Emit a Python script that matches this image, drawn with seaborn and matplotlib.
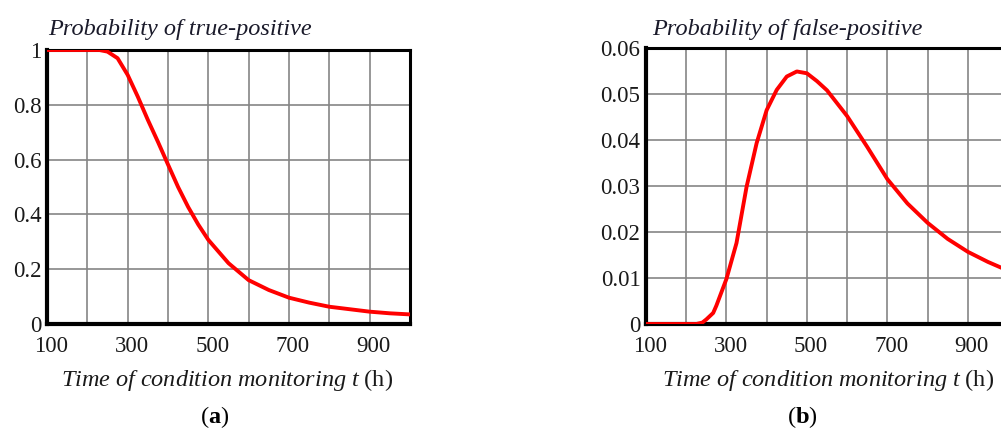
import numpy as np
import pandas as pd
import matplotlib
matplotlib.use("Agg")
import matplotlib.pyplot as plt
import matplotlib.transforms as mtransforms
import seaborn as sns

# ---- data ----
t_tp = [100, 200, 230, 250, 275, 300, 325, 350, 375, 400, 425, 450, 475, 500,
        550, 600, 650, 700, 750, 800, 850, 900, 950, 1000]
p_tp = [1.0, 1.0, 1.0, 0.994, 0.97, 0.909, 0.83, 0.745, 0.665, 0.582, 0.50, 0.427, 0.363, 0.307,
        0.222, 0.16, 0.124, 0.096, 0.078, 0.063, 0.054, 0.045, 0.039, 0.035]

t_fp = [100, 150, 200, 225, 240, 250, 267, 275, 300, 325, 350, 375, 400, 425, 450, 475,
        500, 525, 550, 575, 600, 650, 700, 750, 800, 850, 900, 950, 1000]
p_fp = [0.0, 0.0, 0.0, 0.0, 0.0003, 0.001, 0.0024, 0.004, 0.0098, 0.0176, 0.0298, 0.0393, 0.0465, 0.0509, 0.0538, 0.0549,
        0.0545, 0.0528, 0.0508, 0.048, 0.0452, 0.0385, 0.0315, 0.0262, 0.022, 0.0185, 0.0157, 0.0135, 0.0116]

x_major = [100, 300, 500, 700, 900]
x_minor = [200, 400, 600, 800, 1000]
y_tp_ticks = [0, 0.2, 0.4, 0.6, 0.8, 1.0]
y_tp_labels = ["0", "0.2", "0.4", "0.6", "0.8", "1"]
y_fp_ticks = [0, 0.01, 0.02, 0.03, 0.04, 0.05, 0.06]
y_fp_labels = ["0", "0.01", "0.02", "0.03", "0.04", "0.05", "0.06"]

titles = ["Probability of true-positive", "Probability of false-positive"]
panel_labels = ["a", "b"]

sns.set_theme(style="white")
plt.rcParams["font.family"] = ["Liberation Serif", "DejaVu Serif"]
plt.rcParams["mathtext.fontset"] = "custom"
plt.rcParams["mathtext.rm"] = "Liberation Serif"
plt.rcParams["mathtext.it"] = "Liberation Serif:italic"
plt.rcParams["mathtext.bf"] = "Liberation Serif:bold"

FS_TICK = 16.5
FS_TEXT = 17.5
fig = plt.figure(figsize=(10.01, 4.30), dpi=100)
W, H = 1001.0, 430.0

def px_axes(l, t, r, b):
    return fig.add_axes([l / W, 1 - b / H, (r - l) / W, (b - t) / H])

ax1 = px_axes(47, 50, 410, 324)
ax2 = px_axes(646, 48, 1008, 324)

df1 = pd.DataFrame({"t": t_tp, "p": p_tp})
df2 = pd.DataFrame({"t": t_fp, "p": p_fp})

sns.lineplot(data=df1, x="t", y="p", ax=ax1, color="#ff0000", linewidth=2.8, zorder=5)
sns.lineplot(data=df2, x="t", y="p", ax=ax2, color="#ff0000", linewidth=2.8, zorder=5)

shift = mtransforms.ScaledTranslation(4 / 100.0, 0, fig.dpi_scale_trans)
for ax, yt, yl, ymax in [(ax1, y_tp_ticks, y_tp_labels, 1.0), (ax2, y_fp_ticks, y_fp_labels, 0.06)]:
    ax.set_xlim(100, 1000)
    ax.set_ylim(0, ymax)
    ax.set_xticks(x_major)
    ax.set_xticklabels([str(v) for v in x_major])
    ax.set_xticks(x_minor, minor=True)
    ax.set_yticks(yt)
    ax.set_yticklabels(yl)
    ax.grid(True, which="both", color="#858585", linewidth=1.2)
    ax.tick_params(axis="both", which="both", length=0, labelsize=FS_TICK, colors="#1a1a1a")
    ax.tick_params(axis="x", pad=9)
    ax.tick_params(axis="y", pad=4)
    for lab in ax.get_xticklabels():
        lab.set_transform(lab.get_transform() + shift)
    ax.set_xlabel("")
    ax.set_ylabel("")
    for s in ["left", "bottom"]:
        ax.spines[s].set_linewidth(3.0)
        ax.spines[s].set_color("black")
    for s in ["top", "right"]:
        ax.spines[s].set_linewidth(2.2)
        ax.spines[s].set_color("black")
    ax.set_axisbelow(True)

xlabel = r"$\mathit{Time\ of\ condition\ monitoring\ t}$ (h)"
fig.text(48 / W, 1 - 29 / H, titles[0], ha="left", va="center", fontsize=FS_TEXT, style="italic", color="#1a1a2a")
fig.text(652 / W, 1 - 29 / H, titles[1], ha="left", va="center", fontsize=FS_TEXT, style="italic", color="#1a1a2a")
fig.text(227 / W, 1 - 380 / H, xlabel, ha="center", va="center", fontsize=FS_TEXT, color="#1a1a1a")
fig.text(828 / W, 1 - 380 / H, xlabel, ha="center", va="center", fontsize=FS_TEXT, color="#1a1a1a")
fig.text(215 / W, 1 - 417 / H, r"($\mathbf{a}$)", ha="center", va="center", fontsize=FS_TEXT, color="black")
fig.text(802 / W, 1 - 417 / H, r"($\mathbf{b}$)", ha="center", va="center", fontsize=FS_TEXT, color="black")

fig.savefig("out.png", dpi=100)
